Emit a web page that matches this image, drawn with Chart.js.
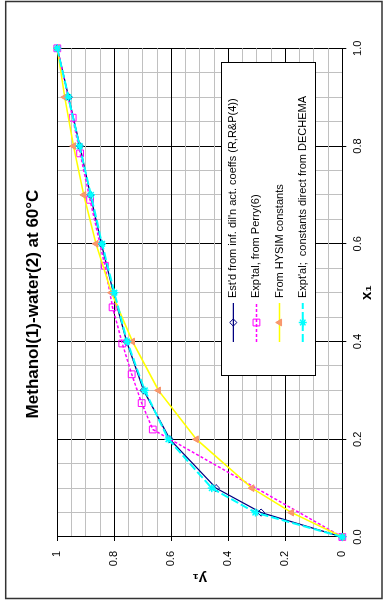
<!DOCTYPE html>
<html>
<head>
<meta charset="utf-8">
<script src="https://cdn.jsdelivr.net/npm/chart.js@4/dist/chart.umd.min.js"></script>
<style>
  html, body { margin: 0; padding: 0; background: #ffffff; }
  #wrap { position: relative; width: 383px; height: 601px; overflow: hidden; background: #ffffff; }
  #c { position: absolute; left: 0; top: 0; transform-origin: 0 0; transform: translateY(601px) rotate(-90deg); }
</style>
</head>
<body>
<div id="wrap"><canvas id="c" width="601" height="383"></canvas></div>
<script>
// ---- data ----
const x1Values   = [0, 0.05, 0.1, 0.2, 0.3, 0.4, 0.5, 0.6, 0.7, 0.8, 0.9, 1.0];
const estdY1     = [0, 0.285, 0.443, 0.605, 0.697, 0.757, 0.803, 0.845, 0.884, 0.921, 0.960, 1.0];
const hysimY1    = [0, 0.178, 0.317, 0.512, 0.645, 0.736, 0.810, 0.864, 0.907, 0.943, 0.974, 1.0];
const dechemaY1  = [0, 0.305, 0.458, 0.610, 0.693, 0.755, 0.800, 0.843, 0.882, 0.922, 0.961, 1.0];
const perryX1    = [0, 0.22, 0.274, 0.333, 0.396, 0.470, 0.555, 0.69, 0.785, 0.858, 1.0];
const perryY1    = [0, 0.665, 0.704, 0.739, 0.772, 0.806, 0.833, 0.885, 0.920, 0.946, 1.0];
const seriesLabels = [
  "Est'd from inf. dil'n act. coeffs (R,R&P(4))",
  "Exp'tal, from Perry(6)",
  "From HYSIM constants",
  "Expt'al;  constants direct from DECHEMA"
];
const chartTitle  = "Methanol(1)-water(2) at 60°C";
const xAxisTitle  = "x₁";
const yAxisTitle  = "y₁";
const xTickLabels = ["0.0", "0.2", "0.4", "0.6", "0.8", "1.0"];
const yTickLabels = ["0", "0.2", "0.4", "0.6", "0.8", "1"];

const FONT = "'Liberation Sans', Arial, Helvetica, sans-serif";
const pts = (xs, ys) => xs.map((x, i) => ({ x: x, y: ys[i] }));
const isMajor = v => Math.round(v * 20) % 4 === 0;

const datasets = [
  { label: seriesLabels[0], data: pts(x1Values, estdY1),
    borderColor: '#000080', borderWidth: 1.25, borderDash: [],
    pointStyle: 'rectRot', pointRadius: 3.6, pointBorderColor: '#000080',
    pointBackgroundColor: 'rgba(255,255,255,0)', pointBorderWidth: 1, order: 3 },
  { label: seriesLabels[1], data: pts(perryX1, perryY1),
    borderColor: '#FF00FF', borderWidth: 1.5, borderDash: [3, 2],
    pointStyle: 'rect', pointRadius: 4.8, pointBorderColor: '#FF00FF',
    pointBackgroundColor: 'rgba(255,255,255,0)', pointBorderWidth: 1, order: 2 },
  { label: seriesLabels[2], data: pts(x1Values, hysimY1),
    borderColor: '#FFFF00', borderWidth: 1.5, borderDash: [],
    pointStyle: 'triangle', pointRadius: 3.9, pointBorderColor: '#F7936A',
    pointBackgroundColor: '#F99A6C', pointBorderWidth: 1, order: 1 },
  { label: seriesLabels[3], data: pts(x1Values, dechemaY1),
    borderColor: '#00FFFF', borderWidth: 2, borderDash: [8, 3],
    pointStyle: 'star', pointRadius: 4, pointBorderColor: '#00FFFF',
    pointBackgroundColor: '#00FFFF', pointBorderWidth: 1.5, order: 0 }
];
datasets.forEach(d => { d.fill = false; d.tension = 0; d.clip = false; d.pointHoverRadius = d.pointRadius; });

// ---- plugins: white background, outer frame, title placement, legend box ----
const framePlugin = {
  id: 'frame',
  afterLayout(chart) {
    const t = chart.titleBlock;
    if (t) { t.left = 41.3; t.right = 552.7; t.width = t.right - t.left; }
  },
  beforeDraw(chart) {
    const ctx = chart.ctx;
    ctx.save();
    ctx.fillStyle = '#ffffff';
    ctx.fillRect(0, 0, chart.width, chart.height);
    ctx.restore();
  },
  afterDraw(chart) {
    const ctx = chart.ctx;
    ctx.save();
    ctx.strokeStyle = '#333333';
    ctx.lineWidth = 1.5;
    ctx.strokeRect(2.5, 5.7, 597, 376.3);
    ctx.restore();
  }
};

const legendBoxPlugin = {
  id: 'legendBox',
  afterDatasetsDraw(chart) {
    const ctx = chart.ctx;
    const box = { left: 225, right: 538, top: 221, bottom: 315 };
    ctx.save();
    ctx.fillStyle = '#ffffff';
    ctx.fillRect(box.left, box.top, box.right - box.left, box.bottom - box.top);
    ctx.strokeStyle = '#000000';
    ctx.lineWidth = 1;
    ctx.strokeRect(box.left + 0.5, box.top + 0.5, box.right - box.left, box.bottom - box.top);
    chart.data.datasets.forEach((ds, i) => {
      const y = 233.3 + i * 23.15;
      ctx.save();
      ctx.strokeStyle = ds.borderColor;
      ctx.lineWidth = ds.borderWidth;
      ctx.setLineDash(ds.borderDash || []);
      ctx.beginPath();
      ctx.moveTo(259, y);
      ctx.lineTo(298, y);
      ctx.stroke();
      ctx.setLineDash([]);
      ctx.fillStyle = ds.pointBackgroundColor;
      ctx.strokeStyle = ds.pointBorderColor;
      ctx.lineWidth = ds.pointBorderWidth;
      Chart.helpers.drawPoint(ctx, { pointStyle: ds.pointStyle, rotation: 0, radius: ds.pointRadius, borderWidth: ds.pointBorderWidth }, 278.5, y);
      ctx.restore();
      ctx.fillStyle = '#000000';
      ctx.font = '11px ' + FONT;
      ctx.textAlign = 'left';
      ctx.textBaseline = 'middle';
      ctx.fillText(ds.label, 303, y);
    });
    ctx.restore();
  }
};

new Chart(document.getElementById('c'), {
  type: 'line',
  data: { datasets: datasets },
  plugins: [framePlugin, legendBoxPlugin],
  options: {
    responsive: false,
    animation: false,
    devicePixelRatio: 1,
    layout: { padding: { left: 0, right: 48.3, top: 0, bottom: 0 } },
    plugins: {
      legend: { display: false },
      tooltip: { enabled: false },
      title: {
        display: true, text: chartTitle, color: '#000000',
        font: { family: FONT, size: 17, weight: 'bold', lineHeight: 1.2 },
        padding: { top: 23.3, bottom: 13.6 }
      }
    },
    scales: {
      x: {
        type: 'linear', position: 'bottom', min: 0, max: 1,
        afterFit(s) { s.height = 40.7; },
        ticks: {
          stepSize: 0.05, autoSkip: false, maxRotation: 0, minRotation: 0,
          padding: 4.6, color: '#000000', font: { family: FONT, size: 11 },
          callback: v => isMajor(v) ? xTickLabels[Math.round(v * 5)] : ''
        },
        grid: {
          color: c => (c.tick && isMajor(c.tick.value)) ? '#000000' : '#C0C0C0',
          lineWidth: 1, drawTicks: true, tickLength: 4,
          tickColor: c => (c.tick && isMajor(c.tick.value)) ? '#000000' : 'rgba(0,0,0,0)'
        },
        border: { display: true, color: '#000000', width: 1 },
        title: {
          display: true, text: xAxisTitle, color: '#000000',
          font: { family: FONT, size: 15, weight: 'bold', lineHeight: 1.2 },
          padding: { top: 0, bottom: 7 }
        }
      },
      y: {
        type: 'linear', position: 'left', min: 0, max: 1,
        afterFit(s) { s.width = 64; },
        ticks: {
          stepSize: 0.05, autoSkip: false,
          padding: 10, color: '#000000', font: { family: FONT, size: 11 },
          callback: v => isMajor(v) ? yTickLabels[Math.round(v * 5)] : ''
        },
        grid: {
          color: c => (c.tick && isMajor(c.tick.value)) ? '#000000' : '#C0C0C0',
          lineWidth: 1, drawTicks: true, tickLength: 4,
          tickColor: c => (c.tick && isMajor(c.tick.value)) ? '#000000' : 'rgba(0,0,0,0)'
        },
        border: { display: true, color: '#000000', width: 1 },
        title: {
          display: true, text: yAxisTitle, color: '#000000',
          font: { family: FONT, size: 15, weight: 'bold', lineHeight: 1.2 },
          padding: { top: 14, bottom: 0 }
        }
      }
    }
  }
});
</script>
</body>
</html>
